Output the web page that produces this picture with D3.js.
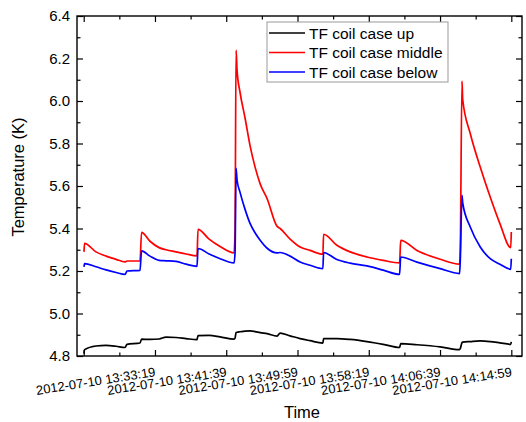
<!DOCTYPE html>
<html>
<head>
<meta charset="utf-8">
<script src="https://cdn.jsdelivr.net/npm/d3@7"></script>
<style>
  body { margin: 0; background: #fff; }
  svg { display: block; font-family: "Liberation Sans", Arial, sans-serif; }
</style>
</head>
<body>
<svg id="chart" width="526" height="422"></svg>
<script>
// sample times (all on 2012-07-10)
var day = "2012-07-10";
var times = ["13:25:01", "13:25:05", "13:26:25", "13:27:36", "13:28:46", "13:29:49", "13:30:03", "13:31:34",
    "13:31:45", "13:32:44", "13:33:48", "13:34:37", "13:35:47", "13:36:57", "13:38:14", "13:38:21",
    "13:39:39", "13:40:56", "13:42:34", "13:42:41", "13:42:48", "13:42:55", "13:43:16", "13:43:51",
    "13:44:26", "13:45:01", "13:45:37", "13:46:26", "13:47:36", "13:47:57", "13:49:07", "13:50:17",
    "13:51:27", "13:52:57", "13:53:02", "13:54:35", "13:56:08", "13:58:06", "14:00:00", "14:01:55",
    "14:02:03", "14:03:57", "14:06:40", "14:08:56", "14:09:01", "14:09:13", "14:09:18", "14:10:11",
    "14:11:21", "14:12:31", "14:13:39", "14:14:55", "14:14:59"];

var caseUp = [4.811, 4.830, 4.847, 4.850, 4.846, 4.840, 4.855, 4.861,
    4.879, 4.878, 4.880, 4.889, 4.887, 4.882, 4.877, 4.896,
    4.897, 4.890, 4.879, 4.885, 4.910, 4.912, 4.914, 4.917,
    4.918, 4.915, 4.910, 4.905, 4.894, 4.908, 4.895, 4.882,
    4.872, 4.861, 4.882, 4.882, 4.878, 4.868, 4.855, 4.840,
    4.858, 4.853, 4.843, 4.830, 4.835, 4.863, 4.865, 4.868,
    4.871, 4.868, 4.862, 4.855, 4.866];

var caseMiddle = [5.290, 5.330, 5.290, 5.270, 5.255, 5.243, 5.247, 5.247,
    5.382, 5.340, 5.310, 5.300, 5.290, 5.280, 5.271, 5.396,
    5.350, 5.315, 5.285, 5.400, 6.239, 6.144, 6.040, 5.920,
    5.790, 5.690, 5.610, 5.540, 5.410, 5.400, 5.350, 5.313,
    5.297, 5.279, 5.373, 5.321, 5.290, 5.266, 5.250, 5.238,
    5.344, 5.297, 5.255, 5.232, 5.305, 6.094, 6.007, 5.847,
    5.689, 5.548, 5.423, 5.310, 5.384];

var caseBelow = [5.219, 5.235, 5.220, 5.205, 5.193, 5.184, 5.200, 5.203,
    5.295, 5.270, 5.250, 5.248, 5.245, 5.232, 5.222, 5.306,
    5.280, 5.258, 5.238, 5.290, 5.683, 5.627, 5.570, 5.490,
    5.424, 5.380, 5.345, 5.307, 5.285, 5.287, 5.270, 5.242,
    5.227, 5.211, 5.287, 5.254, 5.237, 5.224, 5.204, 5.184,
    5.266, 5.242, 5.211, 5.188, 5.250, 5.556, 5.520, 5.407,
    5.313, 5.258, 5.232, 5.208, 5.258];

var seriesNames = ["TF coil case up", "TF coil case middle", "TF coil case below"];
var seriesColors = ["#000000", "#ff0000", "#0000ff"];

var xDomain = ["13:24:12", "14:16:14"];
var xTicks = ["13:24:59", "13:33:19", "13:41:39", "13:49:59", "13:58:19", "14:06:39", "14:14:59"];
var xMinorTicks = ["13:20:49", "13:29:09", "13:37:29", "13:45:49", "13:54:09", "14:02:29", "14:10:49"];
var yTicks = [4.8, 5.0, 5.2, 5.4, 5.6, 5.8, 6.0, 6.2, 6.4];
var yMinorTicks = [4.9, 5.1, 5.3, 5.5, 5.7, 5.9, 6.1, 6.3];

var parseTime = d3.timeParse("%Y-%m-%d %H:%M:%S");
var fmtTime = d3.timeFormat("%Y-%m-%d %H:%M:%S");
var toDate = t => parseTime(day + " " + t);

var margin = { top: 16, right: 4, bottom: 66, left: 77 };
var width = 526, height = 422;

var svg = d3.select("#chart");

var xScale = d3.scaleTime()
    .domain(xDomain.map(toDate))
    .range([margin.left, width - margin.right]);

var yScale = d3.scaleLinear()
    .domain([4.8, 6.4])
    .range([height - margin.bottom, margin.top]);

var x0 = margin.left, x1 = width - margin.right;
var y0 = height - margin.bottom, y1 = margin.top;

// ticks on all four sides, pointing inward
function ticks(axis, values, size, transform) {
    svg.append("g")
        .attr("transform", transform)
        .call(axis.tickValues(values).tickSize(-size).tickSizeOuter(0).tickFormat(""))
        .call(g => g.select(".domain").remove())
        .call(g => g.selectAll("line").attr("stroke-width", 1.2));
}
var xMinorIn = xMinorTicks.map(toDate).filter(d => d >= xScale.domain()[0]);
ticks(d3.axisBottom(xScale), xTicks.map(toDate), 6, `translate(0,${y0})`);
ticks(d3.axisBottom(xScale), xMinorIn, 3.5, `translate(0,${y0})`);
ticks(d3.axisTop(xScale), xTicks.map(toDate), 6, `translate(0,${y1})`);
ticks(d3.axisTop(xScale), xMinorIn, 3.5, `translate(0,${y1})`);
ticks(d3.axisLeft(yScale), yTicks, 6, `translate(${x0},0)`);
ticks(d3.axisLeft(yScale), yMinorTicks, 3.5, `translate(${x0},0)`);
ticks(d3.axisRight(yScale), yTicks, 6, `translate(${x1},0)`);
ticks(d3.axisRight(yScale), yMinorTicks, 3.5, `translate(${x1},0)`);

// frame
svg.append("rect")
    .attr("x", x0).attr("y", y1)
    .attr("width", x1 - x0).attr("height", y0 - y1)
    .attr("fill", "none").attr("stroke", "#000").attr("stroke-width", 1.4);

// y tick labels
svg.append("g")
    .selectAll("text")
    .data(yTicks)
    .enter().append("text")
    .attr("x", x0 - 7)
    .attr("y", d => yScale(d))
    .attr("dy", "0.36em")
    .attr("text-anchor", "end")
    .attr("font-size", 15)
    .text(d => d.toFixed(1));

// x tick labels, slanted (first one falls off the picture)
svg.append("g")
    .selectAll("text")
    .data(xTicks.slice(1).map(toDate))
    .enter().append("text")
    .attr("transform", d => `translate(${xScale(d) + 1},${y0 + 20}) rotate(-9)`)
    .attr("text-anchor", "end")
    .attr("font-size", 13)
    .text(d => fmtTime(d));

// axis titles
svg.append("text")
    .attr("transform", `translate(24,177) rotate(-90)`)
    .attr("text-anchor", "middle")
    .attr("font-size", 16.5)
    .text("Temperature (K)");

svg.append("text")
    .attr("x", 302).attr("y", 418)
    .attr("text-anchor", "middle")
    .attr("font-size", 16.5)
    .text("Time");

// lines
var line = d3.line()
    .x(d => xScale(d.t))
    .y(d => yScale(d.v))
    .curve(d3.curveMonotoneX);

[caseUp, caseMiddle, caseBelow].forEach(function (vals, i) {
    var pts = times.map((t, j) => ({ t: toDate(t), v: vals[j] }));
    svg.append("path")
        .datum(pts)
        .attr("fill", "none")
        .attr("stroke", seriesColors[i])
        .attr("stroke-width", 1.7)
        .attr("stroke-linejoin", "round")
        .attr("d", line);
});

// legend
var legend = svg.append("g").attr("transform", "translate(267,22)");
legend.append("rect")
    .attr("width", 181).attr("height", 60)
    .attr("fill", "#fff").attr("stroke", "#999").attr("stroke-width", 1);
seriesNames.forEach(function (name, i) {
    var cy = 11 + i * 19.5;
    legend.append("line")
        .attr("x1", 2).attr("x2", 38)
        .attr("y1", cy).attr("y2", cy)
        .attr("stroke", seriesColors[i]).attr("stroke-width", 1.7);
    legend.append("text")
        .attr("x", 42).attr("y", cy + 5.5)
        .attr("font-size", 15.5)
        .text(name);
});
</script>
</body>
</html>
